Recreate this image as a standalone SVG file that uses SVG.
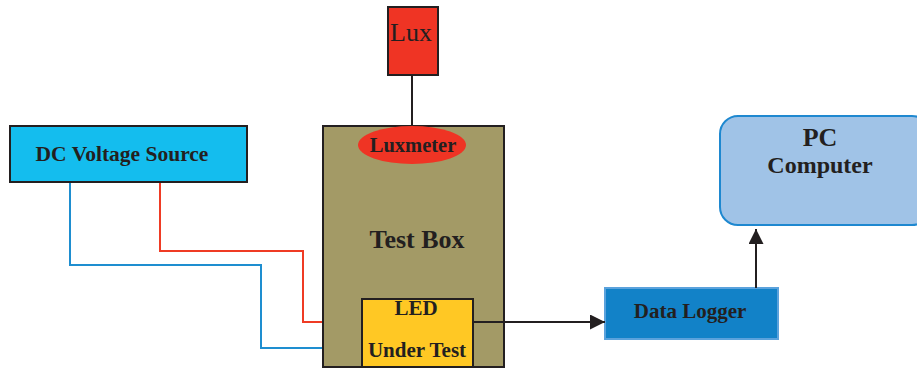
<svg xmlns="http://www.w3.org/2000/svg" width="917" height="369" viewBox="0 0 917 369">
  <style>
    text { font-family: "Liberation Serif", "Times New Roman", serif; fill: #231f20; text-anchor: middle; }
    .b { font-weight: bold; }
    .box { stroke: #231f20; stroke-width: 2; }
    .wire { fill: none; stroke-width: 2; }
  </style>
  <defs>
    <marker id="arrowBig" viewBox="0 0 10 10" refX="10" refY="5" markerWidth="15" markerHeight="15" markerUnits="userSpaceOnUse" orient="auto">
      <path d="M0,0 L10,5 L0,10 z" fill="#231f20"/>
    </marker>
  </defs>

  <g id="connectors">
    <!-- sensor stem from Lux head into the box -->
    <line x1="412" y1="75" x2="412" y2="127" stroke="#231f20" stroke-width="2"/>
    <!-- positive lead -->
    <polyline class="wire" stroke="#ef3b24" points="160,182 160,251 303,251 303,322 363,322"/>
    <!-- negative lead -->
    <polyline class="wire" stroke="#1e8ed0" points="70,182 70,265 261,265 261,348 363,348"/>
  </g>

  <g id="test-box">
    <rect class="box" x="323" y="126" width="181" height="241" fill="#a39a66"/>
    <text class="b" x="417" y="248" font-size="26">Test Box</text>
  </g>

  <g id="dc-source">
    <rect class="box" x="10" y="126" width="237" height="56" fill="#14bdee"/>
    <text class="b" x="122" y="161" font-size="21.5">DC Voltage Source</text>
  </g>

  <g id="lux">
    <rect class="box" x="388" y="7" width="50" height="68" fill="#ef3424"/>
    <text x="411" y="41" font-size="26">Lux</text>
  </g>

  <g id="luxmeter">
    <ellipse cx="412" cy="145" rx="54" ry="19" fill="#ef3424"/>
    <text class="b" x="413" y="152" font-size="20.5">Luxmeter</text>
  </g>

  <g id="led">
    <rect class="box" x="362" y="299" width="111" height="68" fill="#ffc824"/>
    <text class="b" x="416" y="315" font-size="21">LED</text>
    <text class="b" x="417" y="357" font-size="21">Under Test</text>
  </g>

  <g id="data-logger">
    <rect x="605" y="288" width="173" height="51" fill="#1282c8" stroke="#5ba2dc" stroke-width="2"/>
    <text class="b" x="690" y="318" font-size="21">Data Logger</text>
  </g>

  <g id="pc">
    <rect x="720" y="116" width="210" height="109" rx="18" fill="#a0c3e7" stroke="#1e88d0" stroke-width="2"/>
    <text class="b" x="820" y="146" font-size="26">PC</text>
    <text class="b" x="820" y="173" font-size="24">Computer</text>
  </g>

  <g id="signal-arrows">
    <line x1="473" y1="322" x2="605" y2="322" stroke="#231f20" stroke-width="2" marker-end="url(#arrowBig)"/>
    <line x1="756" y1="288" x2="756" y2="229" stroke="#231f20" stroke-width="2" marker-end="url(#arrowBig)"/>
  </g>
</svg>
